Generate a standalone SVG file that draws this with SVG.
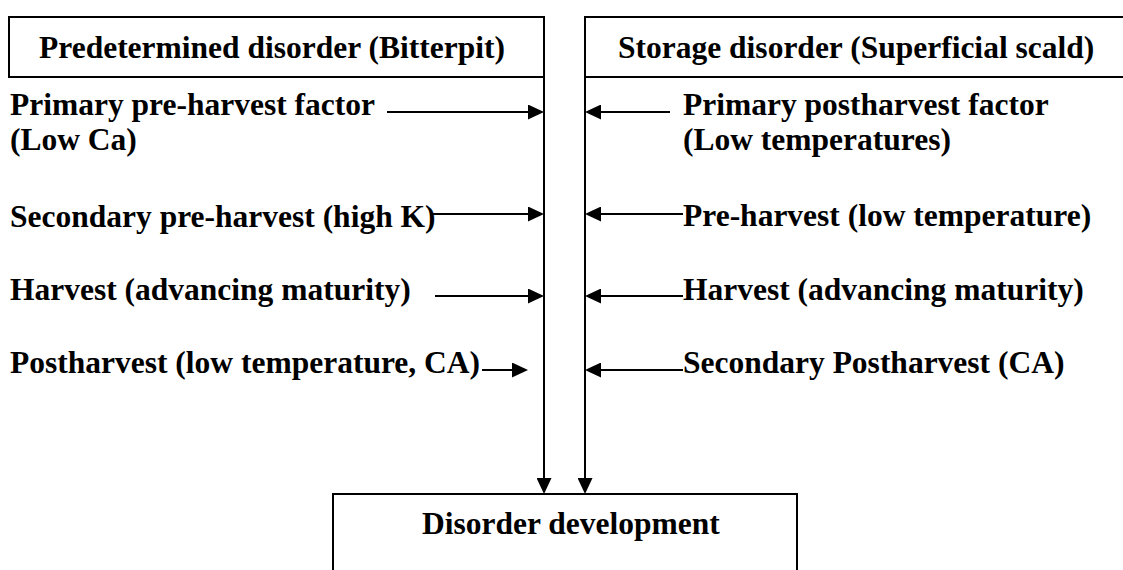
<svg xmlns="http://www.w3.org/2000/svg" width="1123" height="570" viewBox="0 0 1123 570">
  <style>
    .t { font-family: "Liberation Serif", "Times New Roman", serif; font-weight: bold; font-size: 31.5px; fill: #000; }
    .box { fill: #fff; stroke: #000; stroke-width: 2; }
    .ln { stroke: #000; stroke-width: 2; fill: none; marker-end: url(#ah); }
  </style>
  <defs>
    <marker id="ah" markerUnits="userSpaceOnUse" markerWidth="16" markerHeight="15" refX="6" refY="7.5" orient="auto">
      <path d="M0,0 L16,7.5 L0,15 Z" fill="#000"/>
    </marker>
  </defs>
  <rect width="1123" height="570" fill="#fff"/>

  <g id="node-predetermined">
    <rect class="box" x="9" y="17" width="535" height="60"/>
    <text class="t" x="39" y="58">Predetermined disorder (Bitterpit)</text>
  </g>
  <g id="node-storage">
    <rect class="box" x="585" y="17" width="545" height="60"/>
    <text class="t" x="618" y="58">Storage disorder (Superficial scald)</text>
  </g>
  <g id="node-development">
    <rect class="box" x="333" y="494" width="464" height="100"/>
    <text class="t" x="422" y="534">Disorder development</text>
  </g>

  <g id="labels-left">
    <text class="t" x="10" y="115">Primary pre-harvest factor</text>
    <text class="t" x="10" y="150">(Low Ca)</text>
    <text class="t" x="10" y="227">Secondary pre-harvest (high K)</text>
    <text class="t" x="10" y="300">Harvest (advancing maturity)</text>
    <text class="t" x="10" y="373">Postharvest (low temperature, CA)</text>
  </g>
  <g id="labels-right">
    <text class="t" x="683" y="115">Primary postharvest factor</text>
    <text class="t" x="683" y="150">(Low temperatures)</text>
    <text class="t" x="683" y="226">Pre-harvest (low temperature)</text>
    <text class="t" x="683" y="300">Harvest (advancing maturity)</text>
    <text class="t" x="683" y="373">Secondary Postharvest (CA)</text>
  </g>

  <g id="connectors">
    <line class="ln" x1="544" y1="77" x2="544" y2="484"/>
    <line class="ln" x1="585" y1="77" x2="585" y2="484"/>
    <line class="ln" x1="387" y1="112" x2="534" y2="112"/>
    <line class="ln" x1="430" y1="214" x2="534" y2="214"/>
    <line class="ln" x1="435" y1="296" x2="534" y2="296"/>
    <line class="ln" x1="482" y1="370" x2="518" y2="370"/>
    <line class="ln" x1="670" y1="112" x2="595" y2="112"/>
    <line class="ln" x1="683" y1="214" x2="595" y2="214"/>
    <line class="ln" x1="683" y1="296" x2="595" y2="296"/>
    <line class="ln" x1="683" y1="370" x2="595" y2="370"/>
  </g>
</svg>
